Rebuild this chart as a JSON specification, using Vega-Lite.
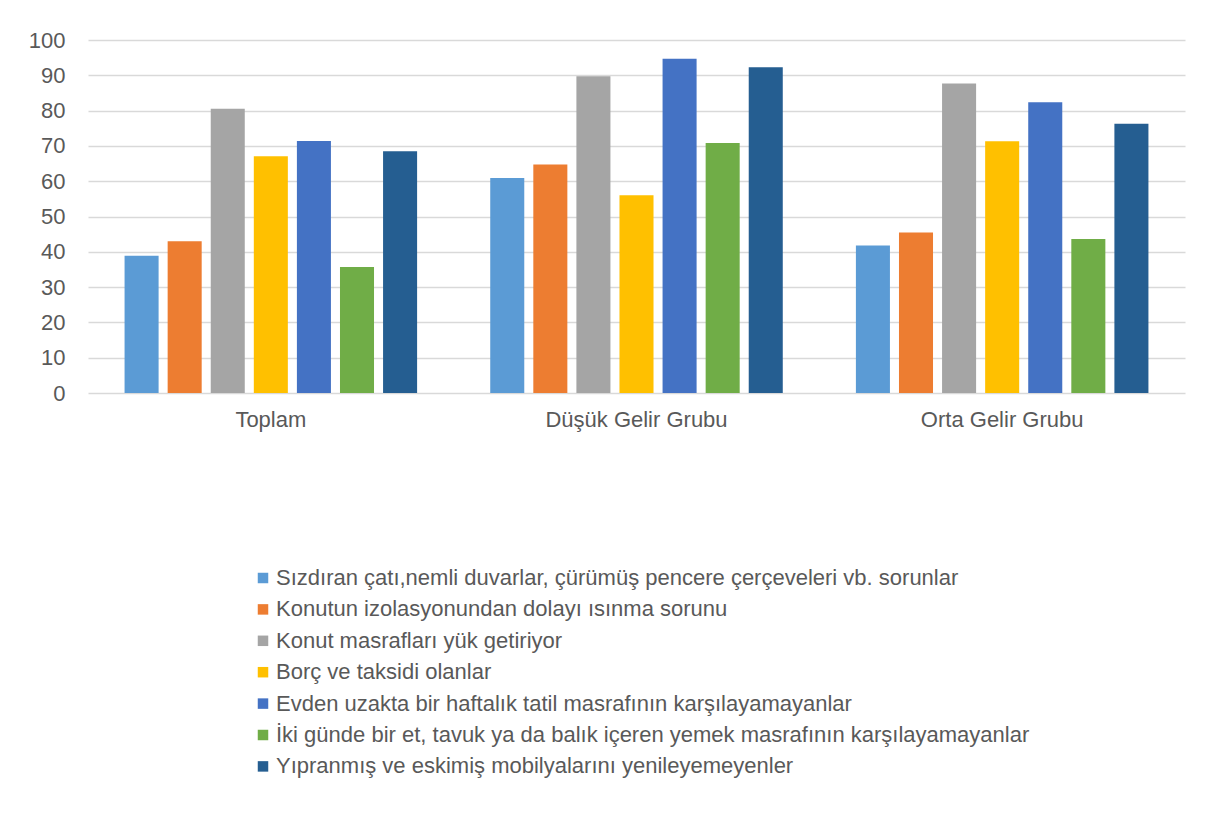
{
  "$schema": "https://vega.github.io/schema/vega-lite/v6.json",
  "width": 1097,
  "height": 353,
  "autosize": {"type": "none"},
  "padding": {"left": 88, "top": 40, "right": 30, "bottom": 428},
  "background": "white",
  "config": {
    "font": "Liberation Sans",
    "view": {"stroke": null},
    "axis": {"labelColor": "#595959", "labelFont": "Liberation Sans"},
    "legend": {"labelColor": "#595959", "labelFont": "Liberation Sans"}
  },
  "data": {
    "values": [
      {"grup": "Toplam", "kategori": "Sızdıran çatı,nemli duvarlar, çürümüş pencere çerçeveleri vb. sorunlar", "deger": 38.9},
      {"grup": "Toplam", "kategori": "Konutun izolasyonundan dolayı ısınma sorunu", "deger": 43.0},
      {"grup": "Toplam", "kategori": "Konut masrafları yük getiriyor", "deger": 80.5},
      {"grup": "Toplam", "kategori": "Borç ve taksidi olanlar", "deger": 67.1},
      {"grup": "Toplam", "kategori": "Evden uzakta bir haftalık tatil masrafının karşılayamayanlar", "deger": 71.4},
      {"grup": "Toplam", "kategori": "İki günde bir et, tavuk ya da balık içeren yemek masrafının karşılayamayanlar", "deger": 35.7},
      {"grup": "Toplam", "kategori": "Yıpranmış ve eskimiş mobilyalarını yenileyemeyenler", "deger": 68.5},
      {"grup": "Düşük Gelir Grubu", "kategori": "Sızdıran çatı,nemli duvarlar, çürümüş pencere çerçeveleri vb. sorunlar", "deger": 60.9},
      {"grup": "Düşük Gelir Grubu", "kategori": "Konutun izolasyonundan dolayı ısınma sorunu", "deger": 64.7},
      {"grup": "Düşük Gelir Grubu", "kategori": "Konut masrafları yük getiriyor", "deger": 89.7},
      {"grup": "Düşük Gelir Grubu", "kategori": "Borç ve taksidi olanlar", "deger": 56.0},
      {"grup": "Düşük Gelir Grubu", "kategori": "Evden uzakta bir haftalık tatil masrafının karşılayamayanlar", "deger": 94.7},
      {"grup": "Düşük Gelir Grubu", "kategori": "İki günde bir et, tavuk ya da balık içeren yemek masrafının karşılayamayanlar", "deger": 70.8},
      {"grup": "Düşük Gelir Grubu", "kategori": "Yıpranmış ve eskimiş mobilyalarını yenileyemeyenler", "deger": 92.3},
      {"grup": "Orta Gelir Grubu", "kategori": "Sızdıran çatı,nemli duvarlar, çürümüş pencere çerçeveleri vb. sorunlar", "deger": 41.8},
      {"grup": "Orta Gelir Grubu", "kategori": "Konutun izolasyonundan dolayı ısınma sorunu", "deger": 45.5},
      {"grup": "Orta Gelir Grubu", "kategori": "Konut masrafları yük getiriyor", "deger": 87.7},
      {"grup": "Orta Gelir Grubu", "kategori": "Borç ve taksidi olanlar", "deger": 71.3},
      {"grup": "Orta Gelir Grubu", "kategori": "Evden uzakta bir haftalık tatil masrafının karşılayamayanlar", "deger": 82.4},
      {"grup": "Orta Gelir Grubu", "kategori": "İki günde bir et, tavuk ya da balık içeren yemek masrafının karşılayamayanlar", "deger": 43.6},
      {"grup": "Orta Gelir Grubu", "kategori": "Yıpranmış ve eskimiş mobilyalarını yenileyemeyenler", "deger": 76.3}
    ]
  },
  "mark": {"type": "bar"},
  "encoding": {
    "x": {
      "field": "grup",
      "type": "nominal",
      "sort": null,
      "scale": {"paddingInner": 0.2, "paddingOuter": 0.1},
      "axis": {"title": null, "labelAngle": 0, "domain": false, "ticks": false, "labelPadding": 16, "labelFontSize": 22, "labelLimit": 400}
    },
    "xOffset": {
      "field": "kategori",
      "type": "nominal",
      "sort": null,
      "scale": {"paddingInner": 0.21, "paddingOuter": 0}
    },
    "y": {
      "field": "deger",
      "type": "quantitative",
      "scale": {"domain": [0, 100], "nice": false},
      "axis": {"title": null, "values": [0,10,20,30,40,50,60,70,80,90,100], "domain": false, "ticks": false, "labelPadding": 23, "labelFontSize": 22, "gridColor": "#d9d9d9", "gridWidth": 1.3}
    },
    "color": {
      "field": "kategori",
      "type": "nominal",
      "sort": null,
      "scale": {
        "domain": [
          "Sızdıran çatı,nemli duvarlar, çürümüş pencere çerçeveleri vb. sorunlar",
          "Konutun izolasyonundan dolayı ısınma sorunu",
          "Konut masrafları yük getiriyor",
          "Borç ve taksidi olanlar",
          "Evden uzakta bir haftalık tatil masrafının karşılayamayanlar",
          "İki günde bir et, tavuk ya da balık içeren yemek masrafının karşılayamayanlar",
          "Yıpranmış ve eskimiş mobilyalarını yenileyemeyenler"
        ],
        "range": ["#5B9BD5", "#ED7D31", "#A5A5A5", "#FFC000", "#4472C4", "#70AD47", "#255E91"]
      },
      "legend": {
        "title": null,
        "orient": "none",
        "legendX": 164,
        "legendY": 527,
        "symbolType": "square",
        "symbolSize": 110,
        "symbolStrokeWidth": 0,
        "labelFontSize": 22,
        "labelOffset": 2,
        "labelLimit": 1000,
        "rowPadding": 9.4
      }
    }
  }
}
